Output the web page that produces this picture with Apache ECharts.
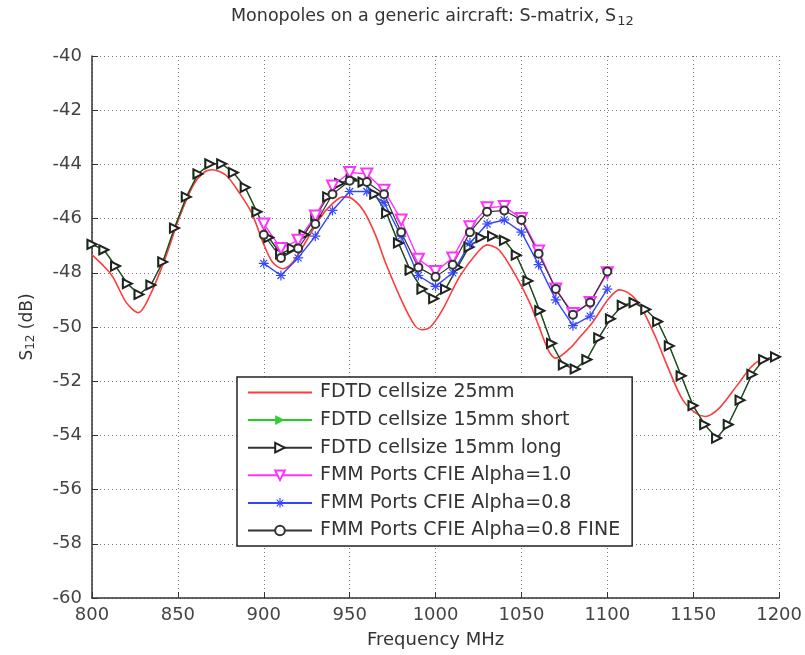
<!DOCTYPE html>
<html>
<head>
<meta charset="utf-8">
<title>S12</title>
<script src="https://cdn.jsdelivr.net/npm/echarts@6/dist/echarts.min.js"></script>
<style>
  html, body { margin: 0; padding: 0; background: #fff; }
  #chart { width: 805px; height: 655px; }
</style>
</head>
<body>
<div id="chart"></div>
<script>
// FDTD cellsize 25mm (red curve)
const redFreq = [800, 806, 812, 820, 827, 834, 843, 851, 859, 865, 870, 878, 886, 893, 900, 905, 911, 917, 925, 933,
  940, 946, 951, 958, 965, 971, 981, 988, 992, 997, 1004, 1014, 1024, 1030, 1037, 1047, 1055, 1060, 1066, 1070,
  1078, 1085, 1091, 1101, 1107, 1114, 1120, 1128, 1136, 1144, 1152, 1157, 1165, 1175, 1184, 1190, 1200]
const redDb = [-47.34, -47.7, -48.14, -49.1, -49.47, -48.8, -47.4, -45.93, -44.76, -44.3, -44.2, -44.4, -45.07, -45.8, -46.95, -47.6, -47.85, -47.6, -46.8, -45.95,
  -45.45, -45.2, -45.25, -45.7, -46.6, -47.65, -49.13, -49.95, -50.1, -50.0, -49.37, -48.14, -47.28, -46.97, -47.16, -48.14, -49.13, -49.95, -50.9, -51.15,
  -50.8, -50.3, -49.86, -48.94, -48.63, -48.82, -49.3, -50.36, -51.6, -52.7, -53.2, -53.3, -53.0, -52.2, -51.46, -51.2, -51.14]

// FDTD cellsize 15mm (short and long runs)
const fdtdFreq = [800.0, 806.9, 813.7, 820.6, 827.4, 834.3, 841.2, 848.0, 854.9, 861.7, 868.6, 875.5, 882.3, 889.2, 896.0,
  902.9, 909.8, 916.6, 923.5, 930.3, 937.2, 944.1, 950.9, 957.8, 964.6, 971.5, 978.4, 985.2, 992.1, 998.9,
  1005.8, 1012.7, 1019.5, 1026.4, 1033.2, 1040.1, 1047.0, 1053.8, 1060.7, 1067.5, 1074.4, 1081.3, 1088.1, 1095.0,
  1101.8, 1108.7, 1115.6, 1122.4, 1129.3, 1136.1, 1143.0, 1149.9, 1156.7, 1163.6, 1170.4, 1177.3, 1184.2, 1191.0, 1197.9]
const fdtdLong = [-46.95, -47.15, -47.75, -48.4, -48.8, -48.45, -47.6, -46.35, -45.2, -44.35, -43.98, -43.98, -44.3, -44.85, -45.75,
  -46.7, -47.3, -47.1, -46.6, -45.9, -45.2, -44.7, -44.55, -44.65, -45.1, -45.8, -46.9, -47.9, -48.6, -48.95,
  -48.6, -47.8, -47.05, -46.7, -46.65, -46.8, -47.35, -48.3, -49.4, -50.6, -51.4, -51.55, -51.2, -50.4,
  -49.7, -49.2, -49.1, -49.35, -49.8, -50.7, -51.8, -52.9, -53.6, -54.1, -53.6, -52.7, -51.75, -51.2, -51.1]
const fdtdShort = [-46.95, -47.15, -47.75, -48.4, -48.8, -48.45, -47.6, -46.35, -45.2, -44.35, -43.98, -43.98, -44.3, -44.85, -45.75,
  -46.7, -47.3, -47.1, -46.6, -45.9, -45.2, -44.7, -44.55, -44.65, -45.1, -45.8, -46.9, -47.9, -48.6, -48.95,
  -48.6, -47.8, -47.05, -46.7, -46.65, -46.8, -47.35, -48.3, -49.4, -50.6, -51.4, -51.55, -51.2, -50.4,
  -49.7, -49.2, -49.1, -49.35, -49.8, -50.7, -51.8, -52.9, -53.6, -54.1, -53.6, -52.7, -51.75, -51.2, -51.1]

// FMM ports
const fmmFreq = [900, 910, 920, 930, 940, 950, 960, 970, 980, 990, 1000, 1010, 1020, 1030, 1040, 1050, 1060, 1070, 1080, 1090, 1100]
const alpha10 = [-46.2, -47.1, -46.8, -45.9, -44.8, -44.3, -44.35, -44.95, -46.05, -47.5, -47.95, -47.45, -46.3, -45.6, -45.55, -46.0, -47.2, -48.6, -49.5, -49.1, -48.0]
const alpha08 = [-47.65, -48.1, -47.45, -46.65, -45.7, -45.0, -45.0, -45.4, -46.65, -48.1, -48.5, -48.0, -46.9, -46.2, -46.05, -46.5, -47.7, -49.0, -49.95, -49.6, -48.6]
const alpha08Fine = [-46.6, -47.45, -47.1, -46.2, -45.1, -44.6, -44.65, -45.1, -46.5, -47.8, -48.15, -47.7, -46.5, -45.75, -45.7, -46.05, -47.3, -48.6, -49.55, -49.1, -47.95]

const seriesNames = ['FDTD cellsize 25mm', 'FDTD cellsize 15mm short', 'FDTD cellsize 15mm long',
  'FMM Ports CFIE Alpha=1.0', 'FMM Ports CFIE Alpha=0.8', 'FMM Ports CFIE Alpha=0.8 FINE']

function pairs(xs, ys) {
  return xs.map((x, i) => [x, ys[i]])
}

const font = 'DejaVu Sans'
const starPath = 'path://M-0.6,-5L0.6,-5L0.6,5L-0.6,5Z M-5,-0.6L5,-0.6L5,0.6L-5,0.6Z M-3.9,-3.1L3.1,3.9L3.9,3.1L-3.1,-3.9Z M-3.9,3.1L3.1,-3.9L3.9,-3.1L-3.1,3.9Z'

const chart = echarts.init(document.getElementById('chart'))
chart.setOption({
  animation: false,
  backgroundColor: '#fff',
  title: {
    text: '{a|Monopoles on a generic aircraft: S-matrix, S}{b|12}',
    left: 226,
    top: 0,
    textStyle: {
      rich: {
        a: { fontFamily: font, fontSize: 17.5, fontWeight: 'normal', color: '#333', lineHeight: 20 },
        b: { fontFamily: font, fontSize: 13, fontWeight: 'normal', color: '#333', padding: [10, 0, 0, 1] }
      }
    }
  },
  grid: { left: 92, right: 25, top: 56, bottom: 57 },
  legend: {
    orient: 'vertical',
    left: 237,
    top: 377,
    data: [
      { name: seriesNames[0], itemStyle: { opacity: 0 } },
      seriesNames[1], seriesNames[2], seriesNames[3], seriesNames[4], seriesNames[5]
    ],
    itemWidth: 64,
    itemHeight: 12,
    itemGap: 8.6,
    padding: [6, 12, 6, 10],
    borderColor: '#222',
    borderWidth: 1.5,
    backgroundColor: '#fff',
    textStyle: { fontFamily: font, fontSize: 19, lineHeight: 19, color: '#333', padding: [0, 0, 0, 3] }
  },
  xAxis: {
    type: 'value',
    min: 800,
    max: 1200,
    interval: 50,
    name: 'Frequency MHz',
    nameLocation: 'middle',
    nameGap: 33,
    nameTextStyle: { fontFamily: font, fontSize: 18, color: '#333' },
    axisLine: { lineStyle: { color: '#333', width: 1.5 } },
    axisTick: { inside: true, length: 6, lineStyle: { color: '#333' } },
    axisLabel: { fontFamily: font, fontSize: 18, color: '#444', margin: 8, formatter: v => String(v) },
    splitLine: { lineStyle: { color: '#777', type: [1, 3] } }
  },
  yAxis: {
    type: 'value',
    min: -60,
    max: -40,
    interval: 2,
    name: '{a|S}{b|12}{a| (dB)}',
    nameLocation: 'middle',
    nameGap: 55,
    nameTextStyle: {
      rich: {
        a: { fontFamily: font, fontSize: 17, color: '#333' },
        b: { fontFamily: font, fontSize: 12, color: '#333', padding: [7, 0, 0, 0] }
      }
    },
    axisLine: { show: true, lineStyle: { color: '#333', width: 1.5 } },
    axisTick: { show: true, inside: true, length: 6, lineStyle: { color: '#333' } },
    axisLabel: { fontFamily: font, fontSize: 18, color: '#444', margin: 10 },
    splitLine: { lineStyle: { color: '#777', type: [1, 3] } }
  },
  series: [
    {
      name: seriesNames[0],
      type: 'line',
      data: pairs(redFreq, redDb),
      symbol: 'none',
      smooth: 0.3,
      lineStyle: { color: '#ff3b3b', width: 1.6 },
      itemStyle: { color: '#ff3b3b' }
    },
    {
      name: seriesNames[1],
      type: 'line',
      data: pairs(fdtdFreq, fdtdShort),
      symbol: 'triangle',
      symbolSize: 11,
      symbolRotate: -90,
      lineStyle: { color: '#22cc22', width: 1.4 },
      itemStyle: { color: '#2fd02f' }
    },
    {
      name: seriesNames[2],
      type: 'line',
      data: pairs(fdtdFreq, fdtdLong),
      symbol: 'emptyTriangle',
      symbolSize: 9,
      symbolRotate: -90,
      lineStyle: { color: '#333', width: 1.2 },
      itemStyle: { color: '#222', borderWidth: 1.2 }
    },
    {
      name: seriesNames[3],
      type: 'line',
      data: pairs(fmmFreq, alpha10),
      symbol: 'emptyTriangle',
      symbolSize: 11,
      symbolRotate: 180,
      lineStyle: { color: '#ff33ff', width: 1.4 },
      itemStyle: { color: '#ff33ff', borderWidth: 1.4 }
    },
    {
      name: seriesNames[4],
      type: 'line',
      data: pairs(fmmFreq, alpha08),
      symbol: starPath,
      symbolSize: 10,
      lineStyle: { color: '#3344ff', width: 1.4 },
      itemStyle: { color: '#3344ff' }
    },
    {
      name: seriesNames[5],
      type: 'line',
      data: pairs(fmmFreq, alpha08Fine),
      symbol: 'emptyCircle',
      symbolSize: 8,
      lineStyle: { color: '#333', width: 1.2 },
      itemStyle: { color: '#333', borderWidth: 1.2 }
    }
  ]
})
</script>
</body>
</html>
